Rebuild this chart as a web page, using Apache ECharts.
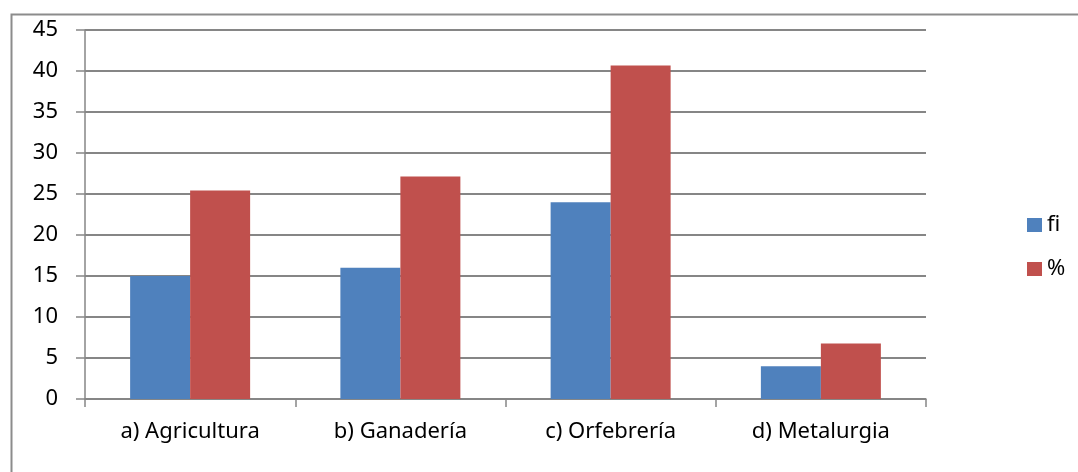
<!DOCTYPE html>
<html>
<head>
<meta charset="utf-8">
<script src="https://cdn.jsdelivr.net/npm/echarts@6/dist/echarts.min.js"></script>
<style>html,body{margin:0;padding:0;background:#fff;}#c{width:1078px;height:472px;}</style>
</head>
<body>
<div id="c"></div>
<script>
const categories = ['a) Agricultura', 'b) Ganadería', 'c) Orfebrería', 'd) Metalurgia'];
const fiValues = [15, 16, 24, 4];
const pctValues = [25.42, 27.12, 40.68, 6.78];
const yTicks = { min: 0, max: 45, interval: 5 };

const chart = echarts.init(document.getElementById('c'));
const font = 'Noto Sans';
chart.setOption({
  animation: false,
  backgroundColor: '#fff',
  graphic: [{
    type: 'rect',
    shape: { x: 11.5, y: 14.5, width: 1200, height: 600 },
    style: { fill: 'none', stroke: '#8c8c8c', lineWidth: 2 },
    silent: true
  }],
  grid: { left: 85, right: 152, top: 30, bottom: 73 },
  legend: {
    orient: 'vertical',
    left: 1022, top: 209,
    itemWidth: 15, itemHeight: 14, itemGap: 22,
    icon: 'rect',
    textStyle: { fontFamily: font, fontSize: 22, color: '#000' },
    data: ['fi', '%']
  },
  xAxis: {
    type: 'category',
    data: categories,
    axisLine: { lineStyle: { color: '#868686', width: 1.5 } },
    axisTick: { show: true, length: 8, lineStyle: { color: '#868686', width: 1.5 } },
    axisLabel: { fontFamily: font, fontSize: 22, color: '#000', margin: 22 }
  },
  yAxis: {
    type: 'value',
    min: yTicks.min, max: yTicks.max, interval: yTicks.interval,
    axisLine: { show: true, lineStyle: { color: '#868686', width: 1.5 } },
    axisTick: { show: true, length: 9, lineStyle: { color: '#868686', width: 1.5 } },
    splitLine: { lineStyle: { color: '#868686', width: 2 } },
    axisLabel: { fontFamily: font, fontSize: 22, color: '#000', margin: 27 }
  },
  series: [
    { name: 'fi', type: 'bar', data: fiValues, barWidth: 60, barGap: '0%', itemStyle: { color: '#4F81BD' } },
    { name: '%', type: 'bar', data: pctValues, barWidth: 60, barGap: '0%', itemStyle: { color: '#C0504D' } }
  ]
});
</script>
</body>
</html>
